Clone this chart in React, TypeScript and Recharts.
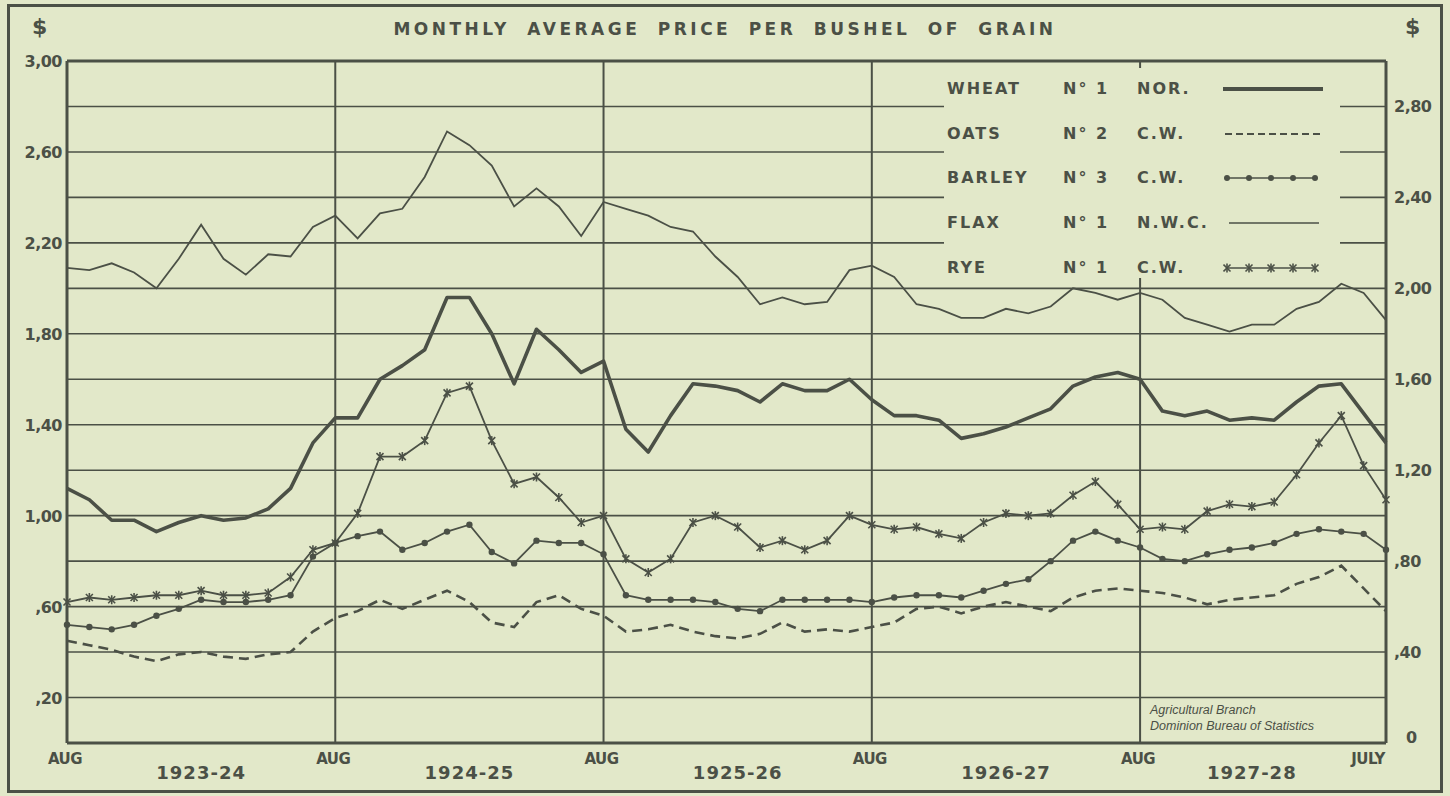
import React from 'react';
import {
  LineChart,
  Line,
  XAxis,
  YAxis,
  CartesianGrid,
  ReferenceLine,
} from 'recharts';

// Aug 1923 .. Jul 1928, one point per month
const months = [
  'Aug 1923', 'Sep 1923', 'Oct 1923', 'Nov 1923', 'Dec 1923', 'Jan 1924', 'Feb 1924', 'Mar 1924', 'Apr 1924', 'May 1924', 'Jun 1924', 'Jul 1924',
  'Aug 1924', 'Sep 1924', 'Oct 1924', 'Nov 1924', 'Dec 1924', 'Jan 1925', 'Feb 1925', 'Mar 1925', 'Apr 1925', 'May 1925', 'Jun 1925', 'Jul 1925',
  'Aug 1925', 'Sep 1925', 'Oct 1925', 'Nov 1925', 'Dec 1925', 'Jan 1926', 'Feb 1926', 'Mar 1926', 'Apr 1926', 'May 1926', 'Jun 1926', 'Jul 1926',
  'Aug 1926', 'Sep 1926', 'Oct 1926', 'Nov 1926', 'Dec 1926', 'Jan 1927', 'Feb 1927', 'Mar 1927', 'Apr 1927', 'May 1927', 'Jun 1927', 'Jul 1927',
  'Aug 1927', 'Sep 1927', 'Oct 1927', 'Nov 1927', 'Dec 1927', 'Jan 1928', 'Feb 1928', 'Mar 1928', 'Apr 1928', 'May 1928', 'Jun 1928', 'Jul 1928',
];

const wheat = [
  1.12, 1.07, 0.98, 0.98, 0.93, 0.97, 1.00, 0.98, 0.99, 1.03, 1.12, 1.32,
  1.43, 1.43, 1.60, 1.66, 1.73, 1.96, 1.96, 1.80, 1.58, 1.82, 1.73, 1.63,
  1.68, 1.38, 1.28, 1.44, 1.58, 1.57, 1.55, 1.50, 1.58, 1.55, 1.55, 1.60,
  1.51, 1.44, 1.44, 1.42, 1.34, 1.36, 1.39, 1.43, 1.47, 1.57, 1.61, 1.63,
  1.60, 1.46, 1.44, 1.46, 1.42, 1.43, 1.42, 1.50, 1.57, 1.58, 1.45, 1.32,
];

const oats = [
  0.45, 0.43, 0.41, 0.38, 0.36, 0.39, 0.40, 0.38, 0.37, 0.39, 0.40, 0.49,
  0.55, 0.58, 0.63, 0.59, 0.63, 0.67, 0.62, 0.53, 0.51, 0.62, 0.65, 0.59,
  0.56, 0.49, 0.50, 0.52, 0.49, 0.47, 0.46, 0.48, 0.53, 0.49, 0.50, 0.49,
  0.51, 0.53, 0.59, 0.60, 0.57, 0.60, 0.62, 0.60, 0.58, 0.64, 0.67, 0.68,
  0.67, 0.66, 0.64, 0.61, 0.63, 0.64, 0.65, 0.70, 0.73, 0.78, 0.68, 0.58,
];

const barley = [
  0.52, 0.51, 0.50, 0.52, 0.56, 0.59, 0.63, 0.62, 0.62, 0.63, 0.65, 0.82,
  0.88, 0.91, 0.93, 0.85, 0.88, 0.93, 0.96, 0.84, 0.79, 0.89, 0.88, 0.88,
  0.83, 0.65, 0.63, 0.63, 0.63, 0.62, 0.59, 0.58, 0.63, 0.63, 0.63, 0.63,
  0.62, 0.64, 0.65, 0.65, 0.64, 0.67, 0.70, 0.72, 0.80, 0.89, 0.93, 0.89,
  0.86, 0.81, 0.80, 0.83, 0.85, 0.86, 0.88, 0.92, 0.94, 0.93, 0.92, 0.85,
];

const flax = [
  2.09, 2.08, 2.11, 2.07, 2.00, 2.13, 2.28, 2.13, 2.06, 2.15, 2.14, 2.27,
  2.32, 2.22, 2.33, 2.35, 2.49, 2.69, 2.63, 2.54, 2.36, 2.44, 2.36, 2.23,
  2.38, 2.35, 2.32, 2.27, 2.25, 2.14, 2.05, 1.93, 1.96, 1.93, 1.94, 2.08,
  2.10, 2.05, 1.93, 1.91, 1.87, 1.87, 1.91, 1.89, 1.92, 2.00, 1.98, 1.95,
  1.98, 1.95, 1.87, 1.84, 1.81, 1.84, 1.84, 1.91, 1.94, 2.02, 1.98, 1.86,
];

const rye = [
  0.62, 0.64, 0.63, 0.64, 0.65, 0.65, 0.67, 0.65, 0.65, 0.66, 0.73, 0.85,
  0.88, 1.01, 1.26, 1.26, 1.33, 1.54, 1.57, 1.33, 1.14, 1.17, 1.08, 0.97,
  1.00, 0.81, 0.75, 0.81, 0.97, 1.00, 0.95, 0.86, 0.89, 0.85, 0.89, 1.00,
  0.96, 0.94, 0.95, 0.92, 0.90, 0.97, 1.01, 1.00, 1.01, 1.09, 1.15, 1.05,
  0.94, 0.95, 0.94, 1.02, 1.05, 1.04, 1.06, 1.18, 1.32, 1.44, 1.22, 1.07,
];

const gridTicks = [0, 0.2, 0.4, 0.6, 0.8, 1.0, 1.2, 1.4, 1.6, 1.8, 2.0, 2.2, 2.4, 2.6, 2.8, 3.0];
const leftLabelTicks = [0.2, 0.6, 1.0, 1.4, 1.8, 2.2, 2.6, 3.0];
const rightTicks = [0, 0.4, 0.8, 1.2, 1.6, 2.0, 2.4, 2.8];
const augTicks = [0, 12, 24, 36, 48];
const endTick = 59;
const yearTicks = [6, 18, 30, 42, 53];
const yearLabels = ['1923-24', '1924-25', '1925-26', '1926-27', '1927-28'];

const legendRows = [
  { name: 'WHEAT', no: 'N° 1', grade: 'NOR.', kind: 'wheat' },
  { name: 'OATS', no: 'N° 2', grade: 'C.W.', kind: 'oats' },
  { name: 'BARLEY', no: 'N° 3', grade: 'C.W.', kind: 'barley' },
  { name: 'FLAX', no: 'N° 1', grade: 'N.W.C.', kind: 'flax' },
  { name: 'RYE', no: 'N° 1', grade: 'C.W.', kind: 'rye' },
];

const data = months.map((label, i) => ({
  m: i,
  label,
  wheat: wheat[i],
  oats: oats[i],
  barley: barley[i],
  flax: flax[i],
  rye: rye[i],
}));

const PAPER = '#e2e8c9';
const INK = '#4b5046';
const FONT = '"DejaVu Sans", sans-serif';

const same = (a: number, b: number) => Math.round(a * 100) === Math.round(b * 100);
const fmtPrice = (v: number) => {
  if (v === 0) return '0';
  const s = v.toFixed(2).replace('.', ',');
  return s.startsWith('0') ? s.slice(1) : s;
};

const LeftTick = (props: any) => {
  const { x, y, payload } = props;
  if (!leftLabelTicks.some((t) => same(t, payload.value))) return <g />;
  return (
    <text x={x} y={y} dy={6} textAnchor="end" fill={INK} fontSize={16} fontWeight={700} fontFamily={FONT} letterSpacing={-0.5}>
      {fmtPrice(payload.value)}
    </text>
  );
};

const RightTick = (props: any) => {
  const { x, y, payload } = props;
  const isZero = payload.value === 0;
  return (
    <text x={isZero ? x + 12 : x} y={isZero ? y - 6 : y} dy={6} textAnchor="start" fill={INK} fontSize={16} fontWeight={700} fontFamily={FONT} letterSpacing={-0.5}>
      {fmtPrice(payload.value)}
    </text>
  );
};

const BottomTick = (props: any) => {
  const { x, y, payload } = props;
  const v = payload.value;
  const yi = yearTicks.indexOf(v);
  if (yi >= 0) {
    return (
      <text x={x} y={y + 36} textAnchor="middle" fill={INK} fontSize={18} fontWeight={700} fontFamily={FONT} letterSpacing={1}>
        {yearLabels[yi]}
      </text>
    );
  }
  const isEnd = v === endTick;
  return (
    <text x={isEnd ? x - 1 : x - 2} y={y + 21} textAnchor={isEnd ? 'end' : 'middle'} fill={INK} fontSize={15} fontWeight={700} fontFamily={FONT} letterSpacing={-0.5}>
      {isEnd ? 'JULY' : 'AUG'}
    </text>
  );
};

const BarleyDot = (props: any) => {
  const { cx, cy, index } = props;
  return <circle key={`b-${index}`} cx={cx} cy={cy} r={3.2} fill={INK} stroke="none" />;
};

const RyeDot = (props: any) => {
  const { cx, cy, index } = props;
  return (
    <g key={`r-${index}`} stroke={INK} strokeWidth={1.6}>
      <line x1={cx - 3.5} y1={cy - 3.5} x2={cx + 3.5} y2={cy + 3.5} />
      <line x1={cx - 3.5} y1={cy + 3.5} x2={cx + 3.5} y2={cy - 3.5} />
      <line x1={cx} y1={cy - 4.5} x2={cx} y2={cy + 4.5} />
    </g>
  );
};

const LegendSample = ({ kind }: { kind: string }) => {
  const pts = [4, 26, 48, 70, 92];
  return (
    <svg width={100} height={16} style={{ display: 'block' }}>
      {kind === 'wheat' && <line x1={0} y1={8} x2={100} y2={8} stroke={INK} strokeWidth={4} strokeLinecap="round" />}
      {kind === 'oats' && <line x1={2} y1={8} x2={100} y2={8} stroke={INK} strokeWidth={2.2} strokeDasharray="7 4" />}
      {kind === 'flax' && <line x1={6} y1={8} x2={96} y2={8} stroke={INK} strokeWidth={1.6} />}
      {kind === 'barley' && (
        <g>
          <line x1={4} y1={8} x2={92} y2={8} stroke={INK} strokeWidth={1.6} />
          {pts.map((p) => <circle key={p} cx={p} cy={8} r={3} fill={INK} />)}
        </g>
      )}
      {kind === 'rye' && (
        <g>
          <line x1={4} y1={8} x2={92} y2={8} stroke={INK} strokeWidth={1.6} />
          {pts.map((p) => <RyeDot key={p} cx={p} cy={8} index={p} />)}
        </g>
      )}
    </svg>
  );
};

export default function App() {
  return (
    <div style={{ position: 'absolute', left: 0, top: 0, width: 1450, height: 796, background: PAPER, overflow: 'hidden' }}>
      {/* outer frame */}
      <div style={{ position: 'absolute', left: 7, top: 4, width: 1430, height: 783, border: `3px solid ${INK}` }} />

      <div
        style={{
          position: 'absolute', left: 0, top: 19, width: 1450, textAlign: 'center',
          fontFamily: FONT, fontSize: 17, fontWeight: 700, color: INK, letterSpacing: 3.5, wordSpacing: 8,
        }}
      >
        MONTHLY AVERAGE PRICE PER BUSHEL OF GRAIN
      </div>
      <div style={{ position: 'absolute', left: 32, top: 14, fontFamily: FONT, fontWeight: 700, fontSize: 22, color: INK }}>$</div>
      <div style={{ position: 'absolute', left: 1405, top: 14, fontFamily: FONT, fontWeight: 700, fontSize: 22, color: INK }}>$</div>

      <div style={{ position: 'absolute', left: 0, top: 0 }}>
        <LineChart width={1450} height={796} data={data} margin={{ top: 61, right: 0, bottom: 0, left: 0 }}>
          <CartesianGrid yAxisId="left" vertical={false} stroke={INK} strokeWidth={1.6} />
          <XAxis
            dataKey="m"
            type="number"
            domain={[0, 59]}
            ticks={[...augTicks, ...yearTicks, endTick].sort((a, b) => a - b)}
            interval={0}
            height={53}
            tickSize={0}
            tickMargin={0}
            tick={<BottomTick />}
            axisLine={{ stroke: INK, strokeWidth: 3 }}
            tickLine={false}
          />
          <YAxis
            yAxisId="left"
            orientation="left"
            width={67}
            domain={[0, 3]}
            ticks={gridTicks}
            interval={0}
            tickSize={0}
            tickMargin={5}
            tick={<LeftTick />}
            axisLine={{ stroke: INK, strokeWidth: 3 }}
            tickLine={false}
          />
          <YAxis
            yAxisId="right"
            orientation="right"
            width={64}
            domain={[0, 3]}
            ticks={rightTicks}
            interval={0}
            tickSize={0}
            tickMargin={8}
            tick={<RightTick />}
            axisLine={{ stroke: INK, strokeWidth: 3 }}
            tickLine={false}
          />
          <ReferenceLine yAxisId="left" y={3} stroke={INK} strokeWidth={3} />
          {augTicks.slice(1).map((t) => (
            <ReferenceLine key={t} yAxisId="left" x={t} stroke={INK} strokeWidth={2} />
          ))}
          {/* both scales are the same 0-3.00 range, flax is read on the right one */}
          <Line yAxisId="right" dataKey="flax" stroke={INK} strokeWidth={1.8} dot={false} isAnimationActive={false} />
          <Line yAxisId="left" dataKey="wheat" stroke={INK} strokeWidth={3.6} strokeLinejoin="round" dot={false} isAnimationActive={false} />
          <Line yAxisId="left" dataKey="oats" stroke={INK} strokeWidth={2.6} strokeDasharray="10 6" dot={false} isAnimationActive={false} />
          <Line yAxisId="left" dataKey="barley" stroke={INK} strokeWidth={1.8} dot={BarleyDot} isAnimationActive={false} />
          <Line yAxisId="left" dataKey="rye" stroke={INK} strokeWidth={1.8} dot={RyeDot} isAnimationActive={false} />
        </LineChart>
      </div>

      {/* legend, drawn over the grid like the original */}
      <div style={{ position: 'absolute', left: 944, top: 68, width: 396, height: 210, background: PAPER }}>
        {legendRows.map((r, i) => (
          <div
            key={r.name}
            style={{
              position: 'absolute', left: 0, top: 9 + i * 44.7, height: 24, width: 396,
              fontFamily: FONT, fontSize: 16, fontWeight: 700, color: INK, letterSpacing: 2,
            }}
          >
            <span style={{ position: 'absolute', left: 3, top: 2 }}>{r.name}</span>
            <span style={{ position: 'absolute', left: 119, top: 2 }}>{r.no}</span>
            <span style={{ position: 'absolute', left: 193, top: 2 }}>{r.grade}</span>
            <span style={{ position: 'absolute', left: 279, top: 4 }}>
              <LegendSample kind={r.kind} />
            </span>
          </div>
        ))}
      </div>

      <div style={{ position: 'absolute', left: 1150, top: 702, fontFamily: '"Liberation Sans", sans-serif', fontStyle: 'italic', fontSize: 12.5, color: INK, lineHeight: '16px' }}>
        Agricultural Branch
        <br />
        Dominion Bureau of Statistics
      </div>
    </div>
  );
}
